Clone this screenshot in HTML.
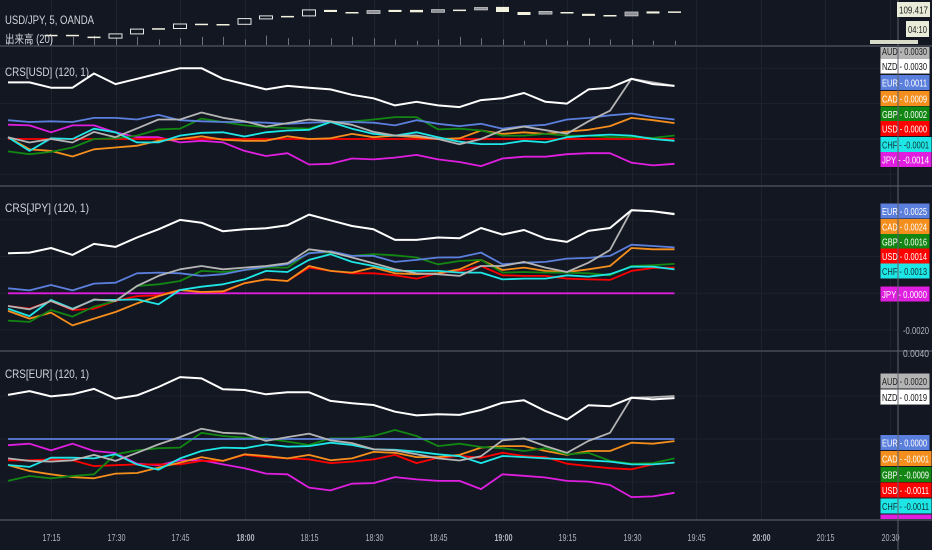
<!DOCTYPE html>
<html><head><meta charset="utf-8">
<style>
html,body{margin:0;padding:0;background:#131722;}
svg{display:block;font-family:"Liberation Sans","Noto Sans CJK JP",sans-serif;}
</style></head>
<body>
<svg id="chart" width="932" height="550" viewBox="0 0 932 550">
<rect x="0" y="0" width="932" height="550" fill="#131722"/>
<g id="grid"></g>
<g id="series"></g>
<g id="frame"></g>
<g id="labels"></g>
</svg>
<script>
// ---- time axis data ----
const timeLabels=['17:15','17:30','17:45','18:00','18:15','18:30','18:45','19:00','19:15','19:30','19:45','20:00','20:15','20:30'];
const boldLabels=['18:00','19:00','20:00'];
const firstBarTime='17:05';
// ---- price candles (index starts at bar 2) ----
const candleOpen=[109.341,109.341,109.335,109.330,109.344,109.363,109.362,109.378,109.377,109.376,109.394,109.404,109.404,109.424,109.417,109.422,109.424,109.424,109.425,109.425,109.432,109.434,109.417,109.419,109.417,109.411,109.407,109.417,109.419,109.419];
const candleClose=[109.337,109.337,109.331,109.344,109.360,109.360,109.377,109.374,109.373,109.395,109.404,109.401,109.424,109.417,109.412,109.412,109.417,109.416,109.416,109.420,109.424,109.417,109.407,109.410,109.412,109.404,109.404,109.404,109.412,109.415];
const candleStyle=['w','w','w','h','h','w','h','w','w','h','h','w','h','w','w','g','w','w','g','w','g','w','w','g','w','w','w','g','w','w'];
const volumes=[5,4,6,7,8,6,7,5,6,7,7,5,8,6,5,6,7,6,5,4,5,7,6,5,4,5,4,6,5,5,4,4];
// ---- CRS[USD] panel (units of 0.0001) ----
const usdNZD=[32,32,29,29,37,31,34,37,40,40,34,31,28,30,29,28,25,23,19,21,19,18,22,23,26,21,20,28,29,34,31,30];
const usdAUD=[1,-2,0,-2,4,1,6,11,11,15,12,10,7,9,11,10,8,4,2,2,0,-3,0,5,7,5,3,10,16,34,32,30];
const usdEUR=[10.6,9.6,10,9.6,11.9,11.9,11,13.6,10.6,10,9.6,9.6,9.2,8.6,9.2,9.6,9.6,9.2,7.7,10.6,8.6,7.3,8.6,5.8,7.3,8,11,11.9,13.4,14.4,12.4,11];
const usdCAD=[1,-5.8,-6.7,-9.9,-5.8,-4.8,-3.8,-1,0,1.5,-0.4,-1,-1,1.5,0,0.4,2.9,1,1.9,1,0,0.4,4.8,2.9,3.8,2.9,4.2,5.2,7.3,11.9,10.6,9];
const usdGBP=[-7,-8.6,-7.3,-4.8,0,0.4,1.9,5.4,5.8,11.5,9.6,7.7,6.7,6.2,5.8,9.6,9.9,11,12.4,12.4,5.4,5.8,4.8,1.9,1.9,2.9,1.9,1.9,1,1,0.6,2];
const usdUSD=[0,0,0,0,0,0,0,0,0,0,0,0,0,0,0,0,0,0,0,0,0,0,0,0,0,0,0,0,0,0,0,0];
const usdCHF=[1,-6.7,0.4,0,5.8,3.8,-1.9,-1.9,1.9,3.5,3.8,1.4,3.8,4.8,5.2,9.6,5.8,2.9,1.9,3.8,1,-1.5,-2.9,-2.9,-1,-1.9,1,1.9,2.5,1.9,0,-1];
const usdJPY=[8.1,7.7,3.8,7.7,7.7,3.8,1,1,-1.9,-1,-1.9,-6.7,-9.6,-8,-14.4,-14,-11,-11.5,-10.5,-9,-11.5,-13,-15.3,-11,-10,-10,-8.6,-8,-8,-13.4,-14.9,-14];
// ---- CRS[JPY] panel ----
const jpyNZD=[21.8,22.2,24.7,20.9,26.9,25.3,30.4,34.9,40,38.5,33.8,34.9,35.5,37.1,42.9,39.8,36.7,34.9,29.1,29.1,30.4,30,35.6,32,34.5,29.8,28,34,35.6,45.3,44.7,43.1];
const jpyAUD=[-6.9,-8.7,-4.2,-8.7,-3.3,-4.2,4,9.5,13.1,14.9,13.1,14,14.9,16.4,24,22.5,19.5,16.4,13.1,10.9,10.4,9.5,14.9,14.9,17.1,14,11.6,16.7,23.6,45.3,44.7,43.4];
const jpyEUR=[2.7,1.6,4.5,1.6,5.3,5.8,10.9,11.3,10.9,9.5,10.4,12.7,14.5,15.8,21.8,22.9,20.4,20.4,17.1,18.2,19.5,19.6,22.2,15.8,16.7,17.1,18.9,19.3,20.4,26.5,25.8,25];
const jpyCAD=[-9.6,-13.8,-10.5,-17.5,-13.8,-10.2,-5.5,-1.5,1.8,0.7,1.1,5.5,7.6,6.7,14.9,12.2,11.3,14,10.9,10.4,10.9,13.1,18.2,12.7,14,12.2,11.6,13.1,14.9,24.7,24,24];
const jpyGBP=[-14.9,-15.6,-9.1,-12.7,-7.3,-4.2,4,4.9,6.7,12.2,11.6,12.7,14,14,22.2,22.2,20.4,21.3,20.7,19.5,15.8,17.6,18.2,11.3,11.6,11.3,11.3,10.9,9.8,14.9,15.3,16];
const jpyUSD=[-6.9,-8.4,-4.2,-9.1,-8.4,-4.2,-1.5,-1.1,1.8,0.7,0.7,5.5,7.6,6.7,14,12.2,10.9,10.9,9.8,8,10.9,12.2,14.9,9.8,9.5,9.5,8,7.6,7.3,12.2,13.8,14];
const jpyCHF=[-8.4,-12.4,-3.6,-8.4,-3.6,-3.6,-3.3,-6,1.8,3.6,4.9,7.6,12.2,11.6,18.2,21.3,17.1,14.9,12.2,12.2,12.2,11.3,11.3,7.6,8,8,9.8,9.1,10.4,14.5,14.5,13];
const jpyJPY=[0,0,0,0,0,0,0,0,0,0,0,0,0,0,0,0,0,0,0,0,0,0,0,0,0,0,0,0,0,0,0,0];
// ---- CRS[EUR] panel ----
const eurNZD=[20.5,22.3,19.8,20.8,23.3,18.8,20.3,24.2,28.8,28.2,23.1,22.8,20.8,21.7,21.7,17.7,16.6,15.8,12.7,11,11.5,11.2,13.5,16.9,18,13,9,15.7,15.2,19.2,18.4,19];
const eurAUD=[-9,-10.2,-10.5,-9.9,-7.4,-10.2,-6.4,-2.5,0.9,4.8,2.9,2.5,-0.9,0.9,2.5,-0.6,-1.9,-4.8,-5.3,-7.1,-9,-10,-8,-0.6,0.3,-3.3,-6.4,-0.9,2.9,19.2,19.5,20];
const eurEUR=[0,0,0,0,0,0,0,0,0,0,0,0,0,0,0,0,0,0,0,0,0,0,0,0,0,0,0,0,0,0,0,0];
const eurCAD=[-12.1,-14.9,-16.4,-17.7,-18.3,-16.1,-15.8,-13.3,-11,-8.4,-10.2,-7.1,-7.9,-9,-7.4,-9.9,-9,-6,-6.4,-8.4,-8.4,-7.4,-4,-3.3,-3.3,-5.6,-7.4,-5.6,-5.6,-1.7,-2.2,-1];
const eurGBP=[-19.5,-17.2,-18.3,-17.2,-16.4,-7.1,-5.3,-4.3,-4,2.9,1.4,0.6,0.3,-1.2,-2.8,0.3,0.3,1.4,4.2,1.4,-3.3,-2.2,-3.7,-4.3,-5.6,-4.3,-7.1,-6.4,-10.2,-11.5,-11.2,-9];
const eurUSD=[-9.9,-9.9,-9.5,-9.9,-12.6,-12.2,-11.8,-11.8,-11.8,-10.2,-10.2,-7.4,-8.4,-9,-9.5,-11.2,-10.5,-9.5,-7.4,-11.2,-8.7,-7.9,-8.7,-6.4,-7.9,-8.4,-11.5,-12.6,-13.6,-14.1,-11.8,-11];
const eurCHF=[-12.1,-13,-8.7,-8.7,-9,-7.1,-11.8,-14.3,-9,-5.6,-4,-4.3,-2.5,-3.6,-3.3,-1.7,-2.8,-4.8,-5,-5.9,-7.1,-8,-11.2,-7.9,-8.4,-9,-9.5,-9.9,-10.5,-11.8,-11.8,-11];
const eurJPY=[-2.9,-2.2,-5.3,-2.2,-5.6,-6.5,-11.5,-12.2,-9.9,-9.9,-11.8,-13.6,-16.1,-16.4,-22.6,-23.9,-20.8,-20.5,-17.7,-18.8,-19.5,-19.5,-23.3,-16.4,-17.1,-17.9,-19.5,-19.8,-21.4,-27,-26.7,-25];

const NS='http://www.w3.org/2000/svg';
function mk(tag,attrs,parent){const e=document.createElementNS(NS,tag);for(const k in attrs)e.setAttribute(k,attrs[k]);parent.appendChild(e);return e;}
const grid=document.getElementById('grid'),series=document.getElementById('series'),frame=document.getElementById('frame'),labels=document.getElementById('labels');
const svg=document.getElementById('chart');
const PLOT_R=898;
function toMin(t){const p=t.split(':');return +p[0]*60+ +p[1];}
const BAR_W=21.5,X0=8;
function xBar(i){return X0+i*BAR_W;}
function xTime(t){return X0+(toMin(t)-toMin(firstBarTime))/5*BAR_W;}
const COLORS={NZD:'#ffffff',AUD:'#b4b4b4',EUR:'#5b7fdc',CAD:'#f48e1c',GBP:'#128612',USD:'#ff0000',CHF:'#1ee6e6',JPY:'#e01ee0'};
const TEXTC={NZD:'#111',AUD:'#222',EUR:'#fff',CAD:'#fff',GBP:'#fff',USD:'#fff',CHF:'#133',JPY:'#fff'};

const panels=[
 {id:'usd',title:'CRS[USD] (120, 1)',top:46,bottom:186,zero:139,k:1.77,titleY:76,
  data:{JPY:usdJPY,USD:usdUSD,CAD:usdCAD,GBP:usdGBP,EUR:usdEUR,CHF:usdCHF,AUD:usdAUD,NZD:usdNZD},
  tags:[['AUD',51],['NZD',66],['EUR',82.5],['CAD',98.5],['GBP',114],['USD',128.5],['CHF',144.5],['JPY',159.5]],axis:[]},
 {id:'jpy',title:'CRS[JPY] (120, 1)',top:186,bottom:351,zero:293.3,k:1.835,titleY:212,
  data:{JPY:jpyJPY,USD:jpyUSD,CAD:jpyCAD,GBP:jpyGBP,EUR:jpyEUR,CHF:jpyCHF,AUD:jpyAUD,NZD:jpyNZD},
  tags:[['EUR',211],['CAD',226.5],['GBP',241.5],['USD',256],['CHF',271],['JPY',294]],axis:[-20]},
 {id:'eur',title:'CRS[EUR] (120, 1)',top:351,bottom:520,zero:439,k:2.15,titleY:378,
  data:{JPY:eurJPY,USD:eurUSD,CAD:eurCAD,GBP:eurGBP,EUR:eurEUR,CHF:eurCHF,AUD:eurAUD,NZD:eurNZD},
  tags:[['AUD',381],['NZD',397],['EUR',442.5],['CAD',458.5],['GBP',474.5],['USD',490],['CHF',506],['JPY',522]],axis:[40]}
];

const defs=mk('defs',{},svg);
timeLabels.forEach(t=>{
  const gx=Math.round(xTime(t))+0.5;
  const l=mk('line',{x1:gx,x2:gx,y1:0,y2:520,stroke:'#1e222d','stroke-width':1},grid);
  
  
  const tx=mk('text',{x:gx-9,y:541,'font-size':10.5,fill:'#b2b5be','font-weight':boldLabels.includes(t)?'bold':'normal',textLength:18,lengthAdjust:'spacingAndGlyphs'},labels);
  tx.textContent=t;
  
  
});
const t1=mk('text',{x:5,y:24,'font-size':12,fill:'#d1d4dc',textLength:89,lengthAdjust:'spacingAndGlyphs'},labels);
t1.textContent='USD/JPY, 5, OANDA';


const t2=mk('text',{x:5,y:43,'font-size':11.5,fill:'#d1d4dc',textLength:48,lengthAdjust:'spacingAndGlyphs'},labels);
t2.textContent='出来高 (20)';



volumes.forEach((v,i)=>{
  const vx=Math.round(xBar(i))+0.5;
  const l=mk('line',{x1:vx,x2:vx,y1:46,y2:46-v*1.3,stroke:'#6f7380','stroke-width':1},series);
  
  
});
function yPrice(p){return 12+(109.417-p)*300;}
candleOpen.forEach((o,j)=>{
  const i=j+2,c=candleClose[j],st=candleStyle[j];
  const y1=yPrice(Math.max(o,c)),y2=yPrice(Math.min(o,c));
  const h=Math.max(1.5,y2-y1);
  const cx=xBar(i);
  const r=mk('rect',{x:cx-6.5,y:y1,width:13,height:h},series);
  if(st==='h'){r.setAttribute('fill','none');r.setAttribute('stroke','#e6e6e6');r.setAttribute('stroke-width','1');}
  else if(st==='g'){r.setAttribute('fill','#8d8f96');r.setAttribute('stroke','#c8c8c8');r.setAttribute('stroke-width','0.8');}
  else{r.setAttribute('fill','#f2f2df');}
  
  
});

panels.forEach(p=>{
  const cp=mk('clipPath',{id:'clip-'+p.id},defs);
  mk('rect',{x:0,y:p.top,width:PLOT_R,height:p.bottom-p.top},cp);
  const yv=v=>p.zero-v*p.k;
  for(let v=-60;v<=60;v+=20){
    const gy=yv(v);
    if(gy<=p.top+2||gy>=p.bottom-2)continue;
    const l=mk('line',{x1:0,x2:PLOT_R,y1:gy,y2:gy,stroke:'#1e222d','stroke-width':1},grid);
    
    
  }
  const g=mk('g',{'clip-path':'url(#clip-'+p.id+')'},series);
  
  
  for(const cur in p.data){
    const arr=p.data[cur];
    const pts=arr.map((v,i)=>xBar(i).toFixed(1)+','+yv(v).toFixed(1)).join(' ');
    const pl=mk('polyline',{points:pts,fill:'none',stroke:COLORS[cur],'stroke-width':cur==='NZD'?2:1.8,'stroke-linejoin':'round'},g);
    
    
  }
  const tt=mk('text',{x:5,y:p.titleY,'font-size':12,fill:'#d1d4dc',textLength:84,lengthAdjust:'spacingAndGlyphs'},labels);
  tt.textContent=p.title;
  
  
  p.axis.forEach(v=>{
    const at=mk('text',{x:903,y:yv(v)+4,'font-size':10.5,fill:'#b2b5be',textLength:26,lengthAdjust:'spacingAndGlyphs'},labels);
    at.textContent=(v/10000).toFixed(4);
    
    
  });
  const lcp=mk('clipPath',{id:'lclip-'+p.id},defs);
  mk('rect',{x:860,y:p.top+1,width:72,height:p.bottom-p.top-2},lcp);
  const lg=mk('g',{'clip-path':'url(#lclip-'+p.id+')'},labels);
  
  
  p.tags.forEach(([cur,cy])=>{
    const arr=p.data[cur];
    const val=arr[arr.length-1]/10000;
    const txt=(Math.abs(val)<1e-9?0:val).toFixed(4);
    const neg=txt.startsWith('-');
    const w=neg?51:49;
    const tg=mk('g',{},lg);
    
    
    mk('rect',{x:880.5,y:cy-7.5,width:w,height:15,fill:COLORS[cur],stroke:cur==='NZD'?'#999':'none','stroke-width':0.6},tg);
    const tx=mk('text',{x:882,y:cy+3.8,'font-size':10,fill:TEXTC[cur],textLength:neg?47:45,lengthAdjust:'spacingAndGlyphs'},tg);
    tx.textContent=cur+' - '+txt;
  });
});
[[46,'#3a3e4a',2],[186,'#3a3e4a',2],[351,'#3a3e4a',2],[520,'#4a4e59',1.5]].forEach(([y,c,w])=>{
  const l=mk('line',{x1:0,x2:932,y1:y,y2:y,stroke:c,'stroke-width':w},frame);
  
  
});
const ax=mk('line',{x1:898,x2:898,y1:0,y2:550,stroke:'#5d606b','stroke-width':1},labels);


const pb=mk('rect',{x:897,y:2,width:33,height:15,fill:'#e8ecd8'},labels);


const pt=mk('text',{x:899,y:13.5,'font-size':10,fill:'#222',textLength:29,lengthAdjust:'spacingAndGlyphs'},labels);
pt.textContent='109.417';


const cb=mk('rect',{x:906,y:21,width:23,height:16,fill:'#e8ecd8'},labels);


const ct=mk('text',{x:908,y:33,'font-size':10,fill:'#222',textLength:19,lengthAdjust:'spacingAndGlyphs'},labels);
ct.textContent='04:10';


const st=mk('rect',{x:870,y:40,width:48,height:4,fill:'#d8dbc8'},labels);


</script>
</body></html>
